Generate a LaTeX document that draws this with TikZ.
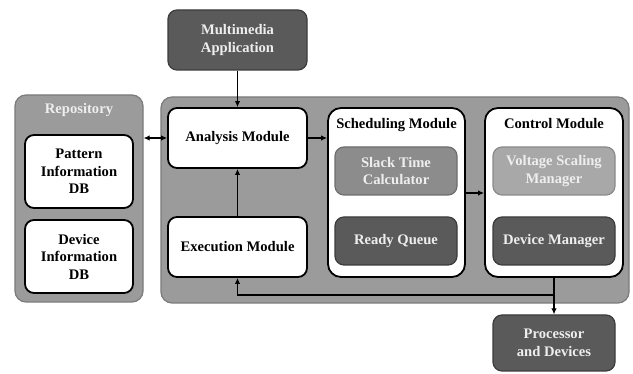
\documentclass[tikz,border=0pt]{standalone}
\usepackage{fontspec}
\setmainfont{Liberation Serif}
\usetikzlibrary{arrows.meta}

\definecolor{panelfill}{HTML}{9B9B9B}
\definecolor{paneledge}{HTML}{7A7A7A}
\definecolor{darkfill}{HTML}{5A5A5A}
\definecolor{darkedge}{HTML}{3C3C3C}
\definecolor{midfill}{HTML}{8C8C8C}
\definecolor{midedge}{HTML}{6E6E6E}
\definecolor{lightfill}{HTML}{A8A8A8}
\definecolor{lightedge}{HTML}{8A8A8A}
\definecolor{softwhite}{HTML}{EEEEEE}

\tikzset{
  box/.style={rounded corners=9pt, align=center, inner sep=0pt,
    font=\fontsize{14.6}{17.5}\selectfont\bfseries},
  panel/.style={box, fill=panelfill, draw=paneledge, line width=1.2pt, rounded corners=11pt},
  whitebox/.style={box, fill=white, draw=black, line width=1.8pt},
  darkbox/.style={box, fill=darkfill, draw=darkedge, line width=1.2pt, text=softwhite},
  midbox/.style={box, fill=midfill, draw=midedge, line width=1.2pt, text=softwhite},
  lightbox/.style={box, fill=lightfill, draw=lightedge, line width=1.2pt, text=softwhite},
  title/.style={font=\fontsize{14.6}{17.5}\selectfont\bfseries, inner sep=0pt},
  arr/.style={line width=1.8pt, -{Latex[length=6pt,width=5.5pt]}},
  dblarr/.style={line width=1.8pt, {Latex[length=6pt,width=5.5pt]}-{Latex[length=6pt,width=5.5pt]}}
}

\begin{document}
\begin{tikzpicture}[x=1pt,y=-1pt]
  \useasboundingbox (0,0) rectangle (633,374);

  % containers
  \node[panel, minimum width=468pt, minimum height=206pt] (main) at (395,200) {};
  \node[panel, minimum width=128pt, minimum height=207pt] (repo) at (79,198.5) {};
  \node[title, text=softwhite] (repotitle) at (79,110) {Repository};

  % repository contents
  \node[whitebox, minimum width=108pt, minimum height=73pt] (pattern) at (79,171.5) {Pattern\\Information\\DB};
  \node[whitebox, minimum width=108pt, minimum height=73pt] (devdb) at (79,256.5) {Device\\Information\\DB};

  % external blocks
  \node[darkbox, minimum width=139pt, minimum height=60pt] (app) at (237.5,40) {Multimedia\\Application};
  \node[darkbox, minimum width=122pt, minimum height=56pt] (proc) at (554,343) {Processor\\and Devices};

  % left column
  \node[whitebox, minimum width=139pt, minimum height=60pt] (analysis) at (237.5,138) {Analysis Module};
  \node[whitebox, minimum width=139pt, minimum height=60pt] (exec) at (237.5,247) {Execution Module};

  % scheduling module
  \node[whitebox, rounded corners=13pt, minimum width=137pt, minimum height=169pt] (sched) at (396.5,192.5) {};
  \node[title] (schedtitle) at (396.5,125.5) {Scheduling Module};
  \node[midbox, minimum width=122pt, minimum height=48pt] (slack) at (396,171) {Slack Time\\Calculator};
  \node[darkbox, minimum width=122pt, minimum height=48pt] (ready) at (396,241) {Ready Queue};

  % control module
  \node[whitebox, rounded corners=13pt, minimum width=138pt, minimum height=169pt] (ctrl) at (554,192.5) {};
  \node[title] (ctrltitle) at (554,124) {Control Module};
  \node[lightbox, minimum width=122pt, minimum height=48pt] (volt) at (554,171) {Voltage Scaling\\Manager};
  \node[darkbox, minimum width=122pt, minimum height=48pt] (devmgr) at (554,241) {Device Manager};

  % connectors
  \draw[arr] (app.south) -- (analysis.north);
  \draw[dblarr] (repo.east |- analysis.west) -- (analysis.west);
  \draw[arr] (analysis.east) -- (sched.west |- analysis.east);
  \draw[arr] (sched.east |- 0,193) -- (ctrl.west |- 0,193);
  \draw[arr] (exec.north) -- (analysis.south);
  \draw[arr] (ctrl.south) -- (proc.north);
  \coordinate (junc) at (554,295);
  \coordinate (turn) at (237.5,295);
  \draw[arr] (junc) -- (turn) -- (exec.south);
\end{tikzpicture}
\end{document}
